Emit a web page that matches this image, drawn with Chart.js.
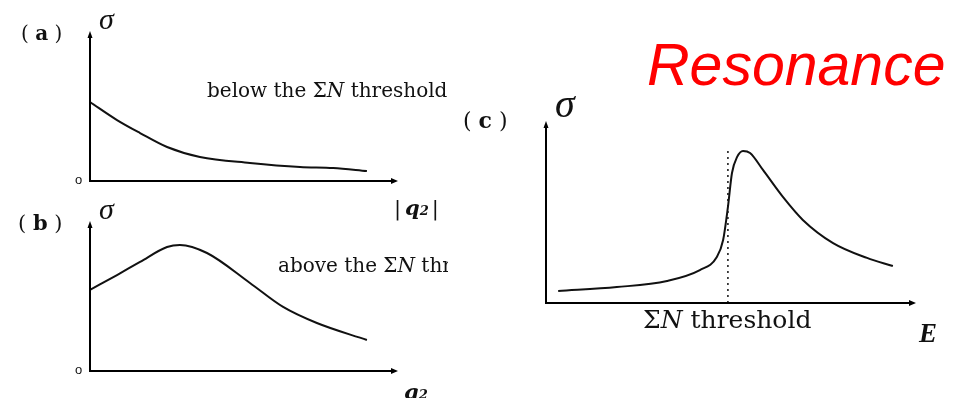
<!DOCTYPE html>
<html>
<head>
<meta charset="utf-8">
<script src="https://cdn.jsdelivr.net/npm/chart.js@4/dist/chart.umd.min.js"></script>
<style>
  html, body { margin: 0; padding: 0; background: #fff; }
  body { width: 963px; height: 398px; position: relative; overflow: hidden; }
  canvas { position: absolute; }
  .t { position: absolute; white-space: nowrap; line-height: 1; color: #111;
       font-family: "DejaVu Serif", "Liberation Serif", serif; }
  .sig { font-style: italic; font-family: "Liberation Serif", serif; }
  .it { font-style: italic; }
  .q { font-weight: bold; font-style: italic; }
  .zero { font-family: "Liberation Sans", sans-serif; font-size: 13px; }
  .clip { overflow: hidden; }
  #title { position: absolute; left: 647px; top: 36px; font-family: "Liberation Sans", Arial, sans-serif;
           font-style: italic; font-size: 59px; color: #ff0000; line-height: 1; white-space: nowrap; }
</style>
</head>
<body>
<canvas id="ca" width="480" height="200" style="left:0;top:0"></canvas>
<canvas id="cb" width="480" height="203" style="left:0;top:195px"></canvas>
<canvas id="cc" width="483" height="298" style="left:480px;top:100px"></canvas>

<div id="title">Resonance</div>

<div class="t" style="left:21px;top:23px;font-size:20px">(&nbsp;<b>a</b>&nbsp;)</div>
<div class="t sig" style="left:99px;top:4px;font-size:30px">σ</div>
<div class="t zero" style="left:75px;top:173px">o</div>
<div class="t" style="left:207px;top:80px;font-size:20px">below the Σ<span class="it">N</span> threshold</div>
<div class="t" style="left:394px;top:197px;font-size:21px">|<span class="q" style="margin-left:4px">q</span><span class="q" style="font-size:13px;margin-right:3px">2</span>|</div>

<div class="t" style="left:18px;top:212px;font-size:21px">(&nbsp;<b>b</b>&nbsp;)</div>
<div class="t sig" style="left:99px;top:194px;font-size:30px">σ</div>
<div class="t zero" style="left:75px;top:363px">o</div>
<div class="t clip" style="left:278px;top:255px;width:170px;font-size:20px">above the Σ<span class="it">N</span> threshold</div>
<div class="t" style="left:404px;top:381px;font-size:21px"><span class="q">q</span><span class="q" style="font-size:13px">2</span></div>

<div class="t" style="left:463px;top:109px;font-size:22px">(&nbsp;<b>c</b>&nbsp;)</div>
<div class="t sig" style="left:555px;top:84px;font-size:40px">σ</div>
<div class="t" style="left:643px;top:307px;font-size:25px">Σ<span class="it">N</span> threshold</div>
<div class="t" style="left:919px;top:320px;font-size:27px;font-weight:bold;font-style:italic;font-family:'Liberation Serif',serif">E</div>

<script>
// (a) cross section vs |q2| below the ΣN threshold
const aQ = [0, 0.88, 1.63, 2.51, 3.58, 5.21, 6.84, 7.92, 9.02];
const aSigma = [5.3, 4.09, 3.22, 2.28, 1.61, 1.21, 0.94, 0.87, 0.67];

// (b) cross section vs q2 above the ΣN threshold
const bQ = [0, 0.88, 1.63, 2.51, 2.93, 3.81, 5.21, 6.29, 7.39, 9.02];
const bSigma = [5.44, 6.44, 7.32, 8.32, 8.46, 7.92, 5.91, 4.30, 3.22, 2.08];

// (c) resonance shape of the cross section vs energy E
const cE = [0.33, 1.92, 3.28, 4.17, 4.63, 4.80, 4.93, 5.04, 5.18, 5.34, 5.53, 5.88, 6.42, 6.96, 7.78, 8.70, 9.40];
const cSigma = [0.66, 0.88, 1.22, 1.82, 2.54, 3.48, 5.30, 7.18, 8.07, 8.40, 8.29, 7.35, 5.86, 4.59, 3.31, 2.49, 2.04];

// ΣN threshold position on the E axis and the height of its dotted marker
const thresholdE = 4.93;
const thresholdMarker = [0, 8.62];

const pts = (xs, ys) => xs.map((x, i) => ({ x, y: ys[i] }));

// Axes with arrowheads along the left and bottom edges of the plot area
const arrowAxes = {
  id: 'arrowAxes',
  afterDatasetsDraw(chart) {
    const { ctx, chartArea: a } = chart;
    ctx.save();
    ctx.strokeStyle = '#000';
    ctx.fillStyle = '#000';
    ctx.lineWidth = 2;
    ctx.beginPath();
    ctx.moveTo(a.left, a.top + 2);
    ctx.lineTo(a.left, a.bottom);
    ctx.lineTo(a.right - 3, a.bottom);
    ctx.stroke();
    // x arrowhead
    ctx.beginPath();
    ctx.moveTo(a.right + 1, a.bottom);
    ctx.lineTo(a.right - 6, a.bottom - 3);
    ctx.lineTo(a.right - 6, a.bottom + 3);
    ctx.closePath();
    ctx.fill();
    // y arrowhead
    ctx.beginPath();
    ctx.moveTo(a.left, a.top - 1);
    ctx.lineTo(a.left - 2.5, a.top + 6);
    ctx.lineTo(a.left + 2.5, a.top + 6);
    ctx.closePath();
    ctx.fill();
    ctx.restore();
  }
};

const curve = (data) => ({
  data,
  borderColor: '#111',
  borderWidth: 2,
  pointRadius: 0,
  fill: false,
  cubicInterpolationMode: 'monotone'
});

function makeChart(id, datasets, padding) {
  return new Chart(document.getElementById(id), {
    type: 'line',
    data: { datasets },
    options: {
      responsive: false,
      animation: false,
      layout: { padding },
      plugins: { legend: { display: false }, tooltip: { enabled: false } },
      scales: {
        x: { type: 'linear', min: 0, max: 10, display: false },
        y: { type: 'linear', min: 0, max: 10, display: false }
      }
    },
    plugins: [arrowAxes]
  });
}

makeChart('ca', [curve(pts(aQ, aSigma))], { left: 90, right: 83, top: 32, bottom: 19 });
makeChart('cb', [curve(pts(bQ, bSigma))], { left: 90, right: 83, top: 27, bottom: 27 });
makeChart('cc', [
  curve(pts(cE, cSigma)),
  {
    data: thresholdMarker.map(y => ({ x: thresholdE, y })),
    borderColor: '#111',
    borderWidth: 1.5,
    borderDash: [2, 4],
    pointRadius: 0,
    fill: false
  }
], { left: 66, right: 48, top: 22, bottom: 95 });
</script>
</body>
</html>
